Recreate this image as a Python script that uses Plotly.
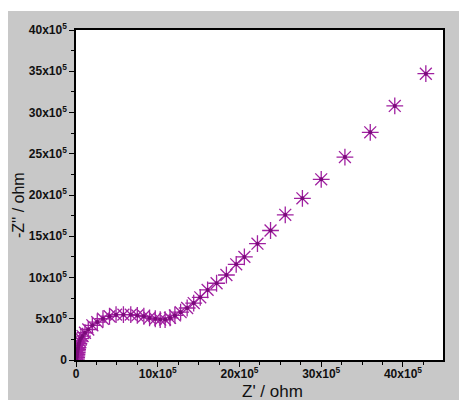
import plotly.graph_objects as go

# Impedance data (units of 1e5 ohm)
z_real = [0.05, 0.08, 0.1, 0.12, 0.15, 0.18, 0.2, 0.25, 0.3, 0.35, 0.45, 0.6, 0.8, 1.1,
          1.5, 2.0, 2.6, 3.3, 4.1, 4.9, 5.8, 6.7, 7.5, 8.3, 9.0, 9.7, 10.3, 10.9, 11.5,
          12.1, 12.8, 13.6, 14.4, 15.2, 16.1, 17.2, 18.4, 19.6, 20.6, 22.2, 23.8, 25.6,
          27.7, 30.0, 32.9, 36.0, 39.0, 42.8]
z_imag = [0.1, 0.3, 0.5, 0.7, 0.9, 1.1, 1.3, 1.5, 1.8, 2.0, 2.3, 2.6, 2.9, 3.3,
          3.7, 4.2, 4.6, 5.0, 5.3, 5.5, 5.5, 5.5, 5.4, 5.3, 5.1, 5.0, 4.9, 4.9, 5.1,
          5.4, 5.8, 6.3, 6.9, 7.6, 8.5, 9.3, 10.3, 11.6, 12.5, 14.1, 15.7, 17.6,
          19.6, 21.9, 24.6, 27.6, 30.8, 34.7]
scale = 1e5

x_tick_vals = [0, 10, 20, 30, 40]
x_tick_text = ["<b>0</b>"] + [f"<b>{v}x10<sup>5</sup></b>" for v in x_tick_vals[1:]]
y_tick_vals = [0, 5, 10, 15, 20, 25, 30, 35, 40]
y_tick_text = ["<b>0</b>"] + [f"<b>{v}x10<sup>5</sup></b>" for v in y_tick_vals[1:]]
x_title = "Z' / ohm"
y_title = "-Z'' / ohm"

x = [v * scale for v in z_real]
y = [v * scale for v in z_imag]

fig = go.Figure()
fig.add_trace(go.Scatter(
    x=x, y=y, mode="markers",
    marker=dict(symbol="asterisk-open", size=14, color="#a020a0",
                line=dict(color="#a020a0", width=1.3)),
    showlegend=False,
))
fig.add_trace(go.Scatter(
    x=x, y=y, mode="markers",
    marker=dict(symbol="circle", size=4, color="#7a0a7a", line=dict(width=0)),
    showlegend=False,
))

font_family = "Liberation Sans, Arial, sans-serif"
tickfont = dict(family=font_family, size=12, color="#111111")

W, H = 459, 403
L, R, T, B = 76, 16, 30, 43
pw, ph = W - L - R, H - T - B


def px_x(p):
    return (p - L) / pw


def px_y(p):
    return (H - B - p) / ph


white = "white"
fig.update_layout(
    width=W, height=H,
    margin=dict(l=L, r=R, t=T, b=B, autoexpand=False),
    paper_bgcolor="#c8c8c8",
    plot_bgcolor="white",
    shapes=[
        dict(type="rect", xref="paper", yref="paper", layer="below",
             x0=px_x(0), x1=px_x(8), y0=px_y(403), y1=px_y(0),
             fillcolor=white, line=dict(width=0)),
        dict(type="rect", xref="paper", yref="paper", layer="below",
             x0=px_x(0), x1=px_x(459), y0=px_y(11), y1=px_y(0),
             fillcolor=white, line=dict(width=0)),
        dict(type="rect", xref="paper", yref="paper", layer="below",
             x0=px_x(0), x1=px_x(459), y0=px_y(403), y1=px_y(400),
             fillcolor=white, line=dict(width=0)),
    ],
    xaxis=dict(
        range=[0, 44.9 * scale],
        tickmode="array",
        tickvals=[v * scale for v in x_tick_vals],
        ticktext=x_tick_text,
        ticks="outside", ticklen=5, tickwidth=1, tickcolor="black",
        ticklabelstandoff=-3,
        minor=dict(ticks="outside", ticklen=3, tickcolor="black", dtick=2.5 * scale, tick0=0),
        showline=True, linecolor="black", linewidth=1.5, mirror=True,
        showgrid=False, zeroline=False, automargin=False,
        tickfont=tickfont,
    ),
    yaxis=dict(
        range=[0, 40 * scale],
        tickmode="array",
        tickvals=[v * scale for v in y_tick_vals],
        ticktext=y_tick_text,
        ticks="outside", ticklen=5, tickwidth=1, tickcolor="black",
        minor=dict(ticks="outside", ticklen=3, tickcolor="black", dtick=2.5 * scale, tick0=0),
        showline=True, linecolor="black", linewidth=1.5, mirror=True,
        showgrid=False, zeroline=False, automargin=False,
        tickfont=tickfont,
    ),
    annotations=[
        dict(text=y_title, xref="paper", yref="paper",
             x=px_x(18), y=px_y(205), xanchor="center", yanchor="middle",
             showarrow=False, textangle=-90,
             font=dict(family=font_family, size=16, color="#111111")),
        dict(text=x_title, xref="paper", yref="paper",
             x=px_x(272), y=px_y(391), xanchor="center", yanchor="middle",
             showarrow=False,
             font=dict(family=font_family, size=17, color="#111111")),
    ],
)

fig.write_html("out.html")
